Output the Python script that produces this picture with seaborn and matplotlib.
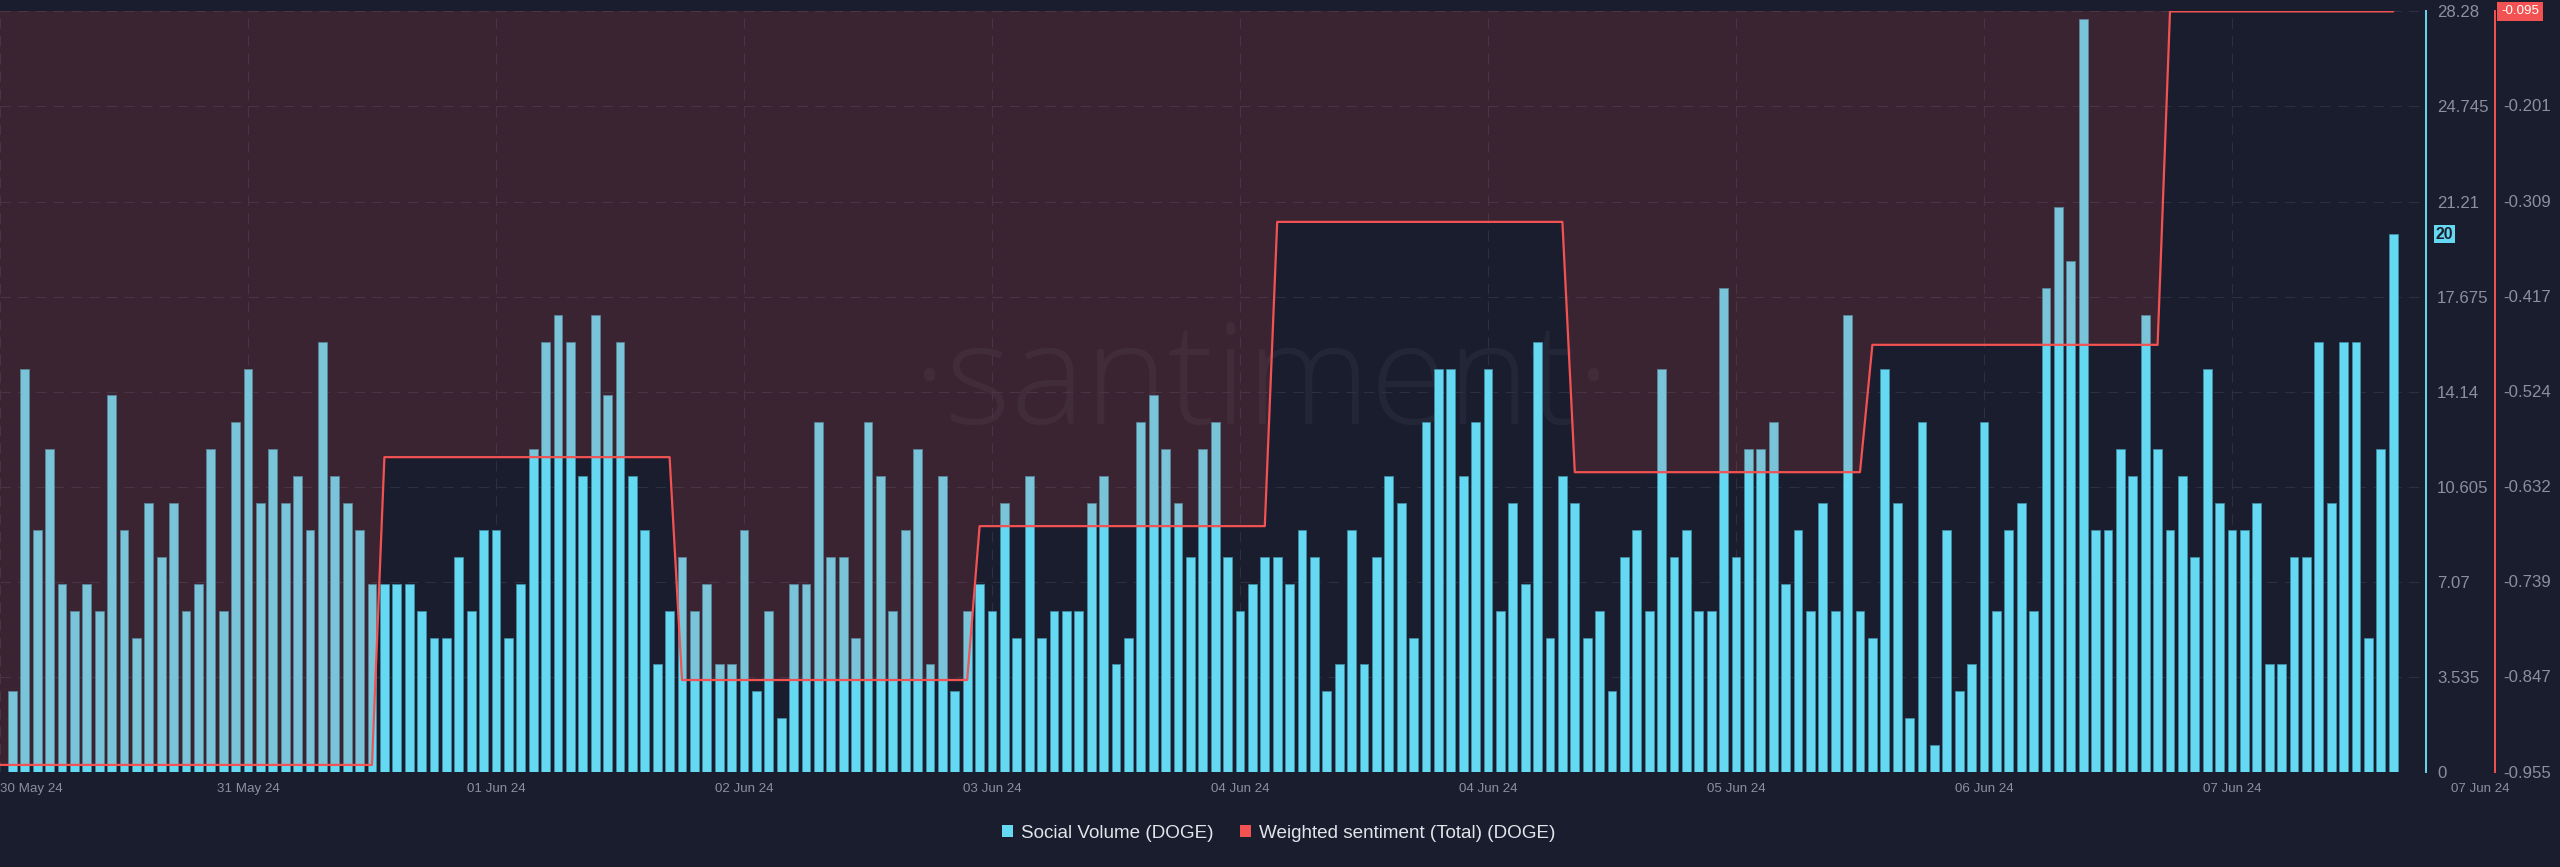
import numpy as np
import pandas as pd
import matplotlib
matplotlib.use("Agg")
import matplotlib.pyplot as plt
import seaborn as sns
from matplotlib.patches import Patch

# ---------------- data ----------------
social_volume = [3, 15, 9, 12, 7, 6, 7, 6, 14, 9, 5, 10, 8, 10, 6, 7, 12, 6, 13, 15,
                 10, 12, 10, 11, 9, 16, 11, 10, 9, 7, 7, 7, 7, 6, 5, 5, 8, 6, 9, 9,
                 5, 7, 12, 16, 17, 16, 11, 17, 14, 16, 11,
                 9, 4, 6, 8, 6, 7, 4, 4, 9, 3, 6, 2, 7, 7, 13, 8, 8, 5, 13, 11,
                 6, 9, 12, 4, 11, 3, 6, 7, 6, 10, 5, 11, 5, 6, 6, 6, 10, 11, 4, 5,
                 13, 14, 12, 10, 8, 12, 13, 8, 6, 7, 8, 8,
                 7, 9, 8, 3, 4, 9, 4, 8, 11, 10, 5, 13, 15, 15, 11, 13, 15, 6, 10, 7,
                 16, 5, 11, 10, 5, 6, 3, 8, 9, 6, 15, 8, 9, 6, 6, 18, 8, 12, 12, 13,
                 7, 9, 6, 10, 6, 17, 6, 5, 15, 10, 2,
                 13, 1, 9, 3, 4, 13, 6, 9, 10, 6, 18, 21, 19, 28, 9, 9, 12, 11, 17, 12,
                 9, 11, 8, 15, 10, 9, 9, 10, 4, 4, 8, 8, 16, 10, 16, 16, 5, 12, 20]

# weighted sentiment: one value per day, held for the given number of hours
sentiment_daily = [-0.947, -0.599, -0.851, -0.677, -0.333, -0.616, -0.472, -0.095]
sentiment_hours = [31, 24, 24, 24, 24, 24, 24, 19]

date_labels = ["30 May 24", "31 May 24", "01 Jun 24", "02 Jun 24", "03 Jun 24",
               "04 Jun 24", "04 Jun 24", "05 Jun 24", "06 Jun 24", "07 Jun 24",
               "07 Jun 24"]

volume_ticks = [0, 3.535, 7.07, 10.605, 14.14, 17.675, 21.21, 24.745, 28.28]
volume_tick_labels = ["0", "3.535", "7.07", "10.605", "14.14", "17.675", "21.21",
                      "24.745", "28.28"]
sentiment_ticks = [-0.955, -0.847, -0.739, -0.632, -0.524, -0.417, -0.309, -0.201,
                   -0.095]
sentiment_tick_labels = ["-0.955", "-0.847", "-0.739", "-0.632", "-0.524", "-0.417",
                         "-0.309", "-0.201", "-0.095"]

legend_labels = ["Social Volume (DOGE)", "Weighted sentiment (Total) (DOGE)"]
watermark = "\u00b7santiment\u00b7"

# ---------------- style ----------------
BG = "#1a1d2d"
CYAN = "#66d9f2"
EDGE = "#3f8ea4"
RED = "#f25252"
TICK = "#8b8fa0"
GRID = "#2c3043"
LEG = "#e2e4ea"

sns.set_theme(style="dark", rc={"axes.facecolor": BG, "figure.facecolor": BG,
                                "savefig.facecolor": BG})
FONT = ["Liberation Sans", "DejaVu Sans"]
plt.rcParams["font.family"] = FONT

W, H = 2560, 867
fig = plt.figure(figsize=(W / 100, H / 100), dpi=100)
renderer = fig.canvas.get_renderer()


def fit(text, px, family, weight="normal", base=20.0):
    t = fig.text(0, 0, text, fontsize=base, family=family, weight=weight)
    w = t.get_window_extent(renderer=renderer).width
    t.remove()
    return base * px / w


xsize = fit("03 Jun 24", 59, FONT)
ysize = fit("24.745", 51, FONT)
lsize = fit(legend_labels[0], 193, FONT)
bsize = fit(sentiment_tick_labels[-1], 38, FONT)
wsize = fit(watermark, 700, ["Open Sans", "DejaVu Sans"], weight="light")

PITCH = 12.4          # pixels per hourly bar
AX_RIGHT = 2426
AX_TOP, AX_BOT = 11.4, 772
ax = fig.add_axes([0, 1 - AX_BOT / H, AX_RIGHT / W, (AX_BOT - AX_TOP) / H])
ax.set_facecolor(BG)

df = pd.DataFrame({"hour": np.arange(len(social_volume)), "volume": social_volume})
sns.barplot(data=df, x="hour", y="volume", ax=ax, color=CYAN, saturation=1,
            width=0.72, edgecolor=EDGE, linewidth=0.6, errorbar=None)

ax.set_xlim(-1, AX_RIGHT / PITCH - 1)
ax.set_ylim(volume_ticks[0], volume_ticks[-1])
ax.set_xlabel("")
ax.set_ylabel("")

# ---------------- sentiment axis (on top, transparent) ----------------
sentiment = np.repeat(sentiment_daily, sentiment_hours)
sent_x = np.arange(len(sentiment)) - 1
ax2 = ax.twinx()
ax2.set_zorder(ax.get_zorder() + 1)
ax2.patch.set_visible(False)
ax2.set_ylim(sentiment_ticks[0], sentiment_ticks[-1])
ax2.fill_between(sent_x, sentiment, 1.0, color=RED, alpha=0.15, lw=0)
sns.lineplot(x=sent_x, y=sentiment, ax=ax2, color=RED, linewidth=1.6,
             errorbar=None)
ax2.set_xlim(ax.get_xlim())
ax2.set_ylabel("")
ax2.grid(False)
ax2.yaxis.tick_right()
ax2.set_yticks(sentiment_ticks, sentiment_tick_labels[:-1] + [""])
ax2.tick_params(axis="y", length=0, pad=6, labelcolor=TICK, labelsize=ysize)
for s in ["left", "top", "bottom"]:
    ax2.spines[s].set_visible(False)
ax2.spines["right"].set_position(("outward", 69 * 0.72))
ax2.spines["right"].set_color(RED)
ax2.spines["right"].set_linewidth(1.4)

ax2.annotate(sentiment_tick_labels[-1], xy=(1, sentiment[-1]),
             xycoords=("axes fraction", "data"), xytext=(75 * 0.72, 0),
             textcoords="offset points", ha="left", va="center",
             fontsize=bsize, color="white",
             bbox=dict(boxstyle="square,pad=0.28", fc=RED, ec="none"),
             annotation_clip=False)

# ---------------- volume axis formatting (after twinx) ----------------
tick_pos = -1 + 20 * np.arange(len(date_labels))
ax.set_xticks(tick_pos[:-1], date_labels[:-1])
ax.tick_params(axis="x", length=0, pad=8, labelcolor=TICK, labelsize=xsize)
ax.get_xticklabels()[0].set_ha("left")
ax.annotate(date_labels[-1], xy=(tick_pos[-1], 0),
            xycoords=("data", "axes fraction"), xytext=(0, -8),
            textcoords="offset points", ha="center", va="top",
            color=TICK, fontsize=xsize, annotation_clip=False)

ax.yaxis.tick_right()
ax.yaxis.set_label_position("right")
ax.set_yticks(volume_ticks, volume_tick_labels)
ax.tick_params(axis="y", which="both", left=False, right=True, labelleft=False,
               labelright=True, length=0, pad=8, labelcolor=TICK,
               labelsize=ysize)
ax.grid(True, axis="both", color=GRID, linestyle=(0, (10, 7)), linewidth=0.75)
ax.set_axisbelow(True)
for s in ["left", "top", "bottom"]:
    ax.spines[s].set_visible(False)
ax.spines["right"].set_visible(True)
ax.spines["right"].set_color(CYAN)
ax.spines["right"].set_linewidth(1.4)

ax.text(1262 / W, 1 - 424 / H, watermark, transform=fig.transFigure,
        ha="center", va="baseline", fontsize=wsize, color="white", alpha=0.045,
        family=["Open Sans", "DejaVu Sans"], weight="light", zorder=0.5)

# last-value badge on social volume axis
ax.annotate(str(social_volume[-1]), xy=(1, social_volume[-1]),
            xycoords=("axes fraction", "data"), xytext=(7, 0),
            textcoords="offset points", ha="left", va="center",
            fontsize=ysize * 0.95, color=BG, weight="bold",
            bbox=dict(boxstyle="square,pad=0.12", fc=CYAN, ec="none"),
            annotation_clip=False)

# ---------------- legend ----------------
handles = [Patch(facecolor=CYAN, edgecolor="none", label=legend_labels[0]),
           Patch(facecolor=RED, edgecolor="none", label=legend_labels[1])]
fig.legend(handles=handles, loc="center", bbox_to_anchor=(1279 / W, 1 - 833 / H),
           ncol=2, frameon=False, fontsize=lsize, labelcolor=LEG,
           handlelength=0.55, handleheight=0.6, handletextpad=0.45,
           columnspacing=1.4)

fig.savefig("out.png", dpi=100, facecolor=BG)
